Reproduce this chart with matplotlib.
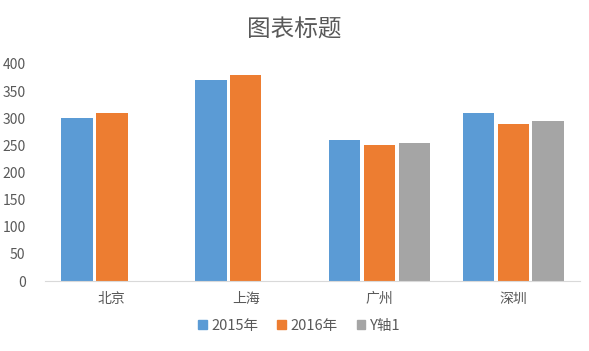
import matplotlib.pyplot as plt
import numpy as np
from matplotlib.patches import Patch

plt.rcParams['font.family'] = ['Noto Sans CJK SC', 'DejaVu Sans']

categories = ['北京', '上海', '广州', '深圳']
series_names = ['2015年', '2016年', 'Y轴1']
v2015 = [300, 370, 260, 310]
v2016 = [310, 380, 250, 290]
vy1 = [np.nan, np.nan, 255, 295]
colors = ['#5b9bd5', '#ed7d31', '#a5a5a5']

fig = plt.figure(figsize=(5.89, 3.51), dpi=100)
ax = fig.add_axes([0.0764, 0.1994, 0.9086, 0.6183])

x = np.arange(len(categories))
w = 0.235
step = 0.26
for i, (vals, c) in enumerate(zip([v2015, v2016, vy1], colors)):
    ax.bar(x + (i - 1) * step, vals, width=w, color=c)

ax.set_xlim(-0.5, len(categories) - 0.5)
ax.set_ylim(0, 400)
ax.set_yticks(np.arange(0, 401, 50))
ax.set_xticks(x)
ax.set_xticklabels(categories)
ax.tick_params(axis='both', length=0, labelsize=10, colors='#595959')
ax.tick_params(axis='x', pad=8)
ax.tick_params(axis='y', pad=14)
for s in ['left', 'right', 'top']:
    ax.spines[s].set_visible(False)
ax.spines['bottom'].set_color('#d9d9d9')

fig.text(0.5, 0.915, '图表标题', ha='center', va='center', fontsize=17, color='#595959')

handles = [Patch(color=c) for c in colors]
fig.legend(handles, series_names, loc='center', bbox_to_anchor=(0.508, 0.072),
           ncol=3, frameon=False, fontsize=10.5, handlelength=0.6, handleheight=0.6,
           handletextpad=0.3, columnspacing=1.3, labelcolor='#595959')

fig.savefig('out.png', dpi=100)
